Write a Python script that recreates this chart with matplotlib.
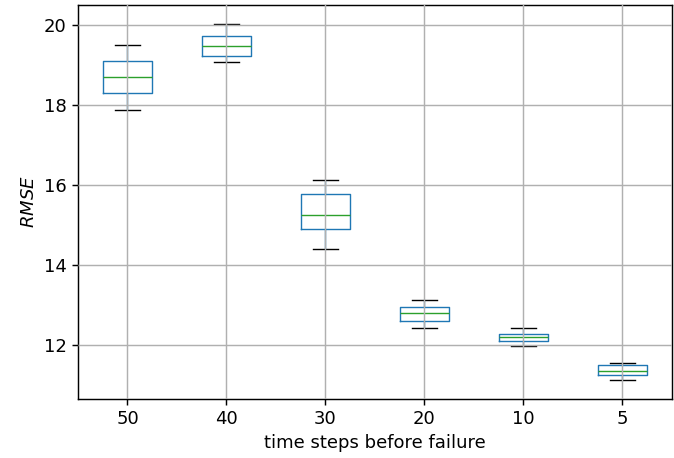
import numpy as np
import matplotlib
matplotlib.use('Agg')
import matplotlib.pyplot as plt

# values
labels = ['50', '40', '30', '20', '10', '5']
whislo = [17.87, 19.07, 14.39, 12.41, 11.97, 11.11]
q1 = [18.31, 19.23, 14.89, 12.59, 12.09, 11.24]
med = [18.71, 19.47, 15.25, 12.78, 12.19, 11.33]
q3 = [19.10, 19.72, 15.76, 12.94, 12.27, 11.49]
whishi = [19.51, 20.03, 16.11, 13.125, 12.41, 11.55]

stats = []
for i in range(len(labels)):
    stats.append({'label': labels[i], 'whislo': whislo[i], 'q1': q1[i], 'med': med[i],
                  'q3': q3[i], 'whishi': whishi[i], 'fliers': []})

# reference looks like it was rendered ~1.3x the default scale
s = 1.3
plt.rcParams['font.size'] = 10 * s
plt.rcParams['lines.linewidth'] = 1.0 * s
plt.rcParams['axes.linewidth'] = 0.8 * s
plt.rcParams['grid.linewidth'] = 0.8 * s
plt.rcParams['xtick.major.size'] = 3.5 * s
plt.rcParams['ytick.major.size'] = 3.5 * s
plt.rcParams['xtick.major.width'] = 0.8 * s
plt.rcParams['ytick.major.width'] = 0.8 * s

fig = plt.figure(figsize=(6.74, 4.58), dpi=100)
ax = fig.add_axes([0.1157, 0.129, 0.881, 0.86])

ax.bxp(stats, widths=0.5,
       boxprops=dict(color='C0'),
       whiskerprops=dict(color='C0'),
       medianprops=dict(color='C2'),
       capprops=dict(color='k'))
ax.grid(True)
ax.set_axisbelow(False)
ax.set_ylim(10.64, 20.5)
ax.set_xlim(0.5, 6.5)
ax.set_xlabel('time steps before failure')
ax.set_ylabel('$RMSE$')

plt.savefig('out.png', dpi=100)
